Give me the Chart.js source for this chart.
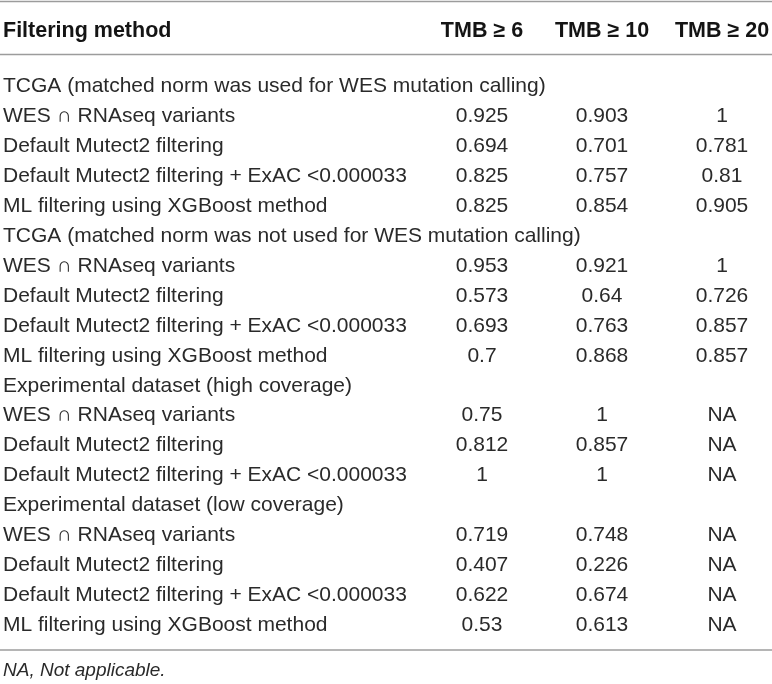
<!DOCTYPE html>
<html>
<head>
<meta charset="utf-8">
<title>TMB filtering table</title>
<script src="https://cdn.jsdelivr.net/npm/chart.js@4.4.0/dist/chart.umd.min.js"></script>
<style>
  body { margin: 0; background: #ffffff; }
  canvas { display: block; }
</style>
</head>
<body>
<canvas id="table-chart" width="772" height="684"></canvas>
<script>
//Column headers
const columns = ["TMB \u2265 6", "TMB \u2265 10", "TMB \u2265 20"];
//Section titles (rows without values)
const sectionTitles = [
  "TCGA (matched norm was used for WES mutation calling)",
  "TCGA (matched norm was not used for WES mutation calling)",
  "Experimental dataset (high coverage)",
  "Experimental dataset (low coverage)",
];
//Row labels, top to bottom
const rowLabels = [
  sectionTitles[0],
  "WES \u2229 RNAseq variants",
  "Default Mutect2 filtering",
  "Default Mutect2 filtering + ExAC <0.000033",
  "ML filtering using XGBoost method",
  sectionTitles[1],
  "WES \u2229 RNAseq variants",
  "Default Mutect2 filtering",
  "Default Mutect2 filtering + ExAC <0.000033",
  "ML filtering using XGBoost method",
  sectionTitles[2],
  "WES \u2229 RNAseq variants",
  "Default Mutect2 filtering",
  "Default Mutect2 filtering + ExAC <0.000033",
  sectionTitles[3],
  "WES \u2229 RNAseq variants",
  "Default Mutect2 filtering",
  "Default Mutect2 filtering + ExAC <0.000033",
  "ML filtering using XGBoost method",
];
//Values per column (null = NA)
const tmb6 = [null, 0.925, 0.694, 0.825, 0.825, null, 0.953, 0.573, 0.693, 0.7, null, 0.75, 0.812, 1, null, 0.719, 0.407, 0.622, 0.53];
const tmb10 = [null, 0.903, 0.701, 0.757, 0.854, null, 0.921, 0.64, 0.763, 0.868, null, 1, 0.857, 1, null, 0.748, 0.226, 0.674, 0.613];
const tmb20 = [null, 1, 0.781, 0.81, 0.905, null, 1, 0.726, 0.857, 0.857, null, null, null, null, null, null, null, null, null];
const firstHeader = "Filtering method";
const footnote = "NA, Not applicable.";

const FONT = "'Liberation Sans', Arial, Helvetica, sans-serif";
const TEXT_COLOR = "#2a2a2a";
const HEAD_COLOR = "#141414";
const RULE_COLOR = "#9c9c9c";
const BODY_SIZE = 21;
const HEAD_SIZE = 21.5;
Chart.defaults.font.family = FONT;

//Build one dataset per column, one point per row
const columnValues = [tmb6, tmb10, tmb20];
const datasets = columns.map((col, c) => ({
  label: col,
  data: rowLabels.map((row, i) => ({ x: col, y: row, v: columnValues[c][i] })),
  pointRadius: 0,
  showLine: false,
}));

//Draws the rules, section titles and cell texts
const tablePlugin = {
  id: "tableText",
  beforeDraw(chart) {
    const ctx = chart.ctx;
    const xScale = chart.scales.x;
    const yScale = chart.scales.y;
    const rules = [xScale.top + 1.5, xScale.bottom - 16.5, yScale.bottom + 9.5];
    ctx.save();
    ctx.strokeStyle = RULE_COLOR;
    ctx.lineWidth = 1.3;
    rules.forEach((y) => {
      ctx.beginPath();
      ctx.moveTo(0, y);
      ctx.lineTo(chart.width, y);
      ctx.stroke();
    });
    ctx.restore();
  },
  afterDatasetsDraw(chart) {
    const ctx = chart.ctx;
    const xScale = chart.scales.x;
    const yScale = chart.scales.y;
    ctx.save();
    //Header of the label column, on the same line as the column headers
    ctx.font = "bold " + HEAD_SIZE + "px " + FONT;
    ctx.fillStyle = HEAD_COLOR;
    ctx.textAlign = "left";
    ctx.textBaseline = "middle";
    const headY = xScale.bottom - xScale.options.ticks.padding - HEAD_SIZE * 0.6;
    ctx.fillText(firstHeader, yScale.left, headY);
    //Section titles run across the value columns
    ctx.font = BODY_SIZE + "px " + FONT;
    ctx.fillStyle = TEXT_COLOR;
    rowLabels.forEach((row, i) => {
      if (sectionTitles.includes(row)) {
        ctx.fillText(row, yScale.left, yScale.getPixelForValue(i));
      }
    });
    //Cell values
    ctx.textAlign = "center";
    chart.data.datasets.forEach((ds, d) => {
      const meta = chart.getDatasetMeta(d);
      meta.data.forEach((pt, i) => {
        const raw = ds.data[i];
        if (sectionTitles.includes(raw.y)) return;
        const text = raw.v === null ? "NA" : String(raw.v);
        ctx.fillText(text, pt.x, pt.y);
      });
    });
    ctx.restore();
  },
};

const ctx = document.getElementById("table-chart").getContext("2d");
const tableChart = new Chart(ctx, {
  type: "scatter",
  data: { datasets: datasets },
  options: {
    responsive: false,
    animation: false,
    events: [],
    layout: { padding: { left: 3, right: 50, top: 0, bottom: 0 } },
    plugins: {
      legend: { display: false },
      tooltip: { enabled: false },
      title: {
        display: true,
        text: footnote,
        position: "bottom",
        align: "start",
        color: TEXT_COLOR,
        font: { size: 19, style: "italic", weight: "normal" },
        padding: { top: 18.7, bottom: 2 },
      },
    },
    scales: {
      x: {
        type: "category",
        labels: columns,
        position: "top",
        offset: false,
        grid: { display: false, drawTicks: false },
        border: { display: false },
        ticks: {
          autoSkip: false,
          maxRotation: 0,
          minRotation: 0,
          padding: 27.4,
          color: HEAD_COLOR,
          font: { size: HEAD_SIZE, weight: "bold" },
        },
        afterFit: (scale) => {
          scale.height = 71;
          //edge labels fit inside the layout padding
          scale.paddingLeft = 0;
          scale.paddingRight = 0;
        },
      },
      y: {
        type: "category",
        labels: rowLabels,
        offset: true,
        grid: { display: false, drawTicks: false },
        border: { display: false },
        ticks: {
          autoSkip: false,
          crossAlign: "far",
          color: TEXT_COLOR,
          font: { size: BODY_SIZE },
          callback: function (value) {
            const label = this.getLabelForValue(value);
            return sectionTitles.includes(label) ? "" : label;
          },
        },
        afterFit: (scale) => {
          scale.width = 479;
        },
      },
    },
  },
  plugins: [tablePlugin],
});
</script>
</body>
</html>
